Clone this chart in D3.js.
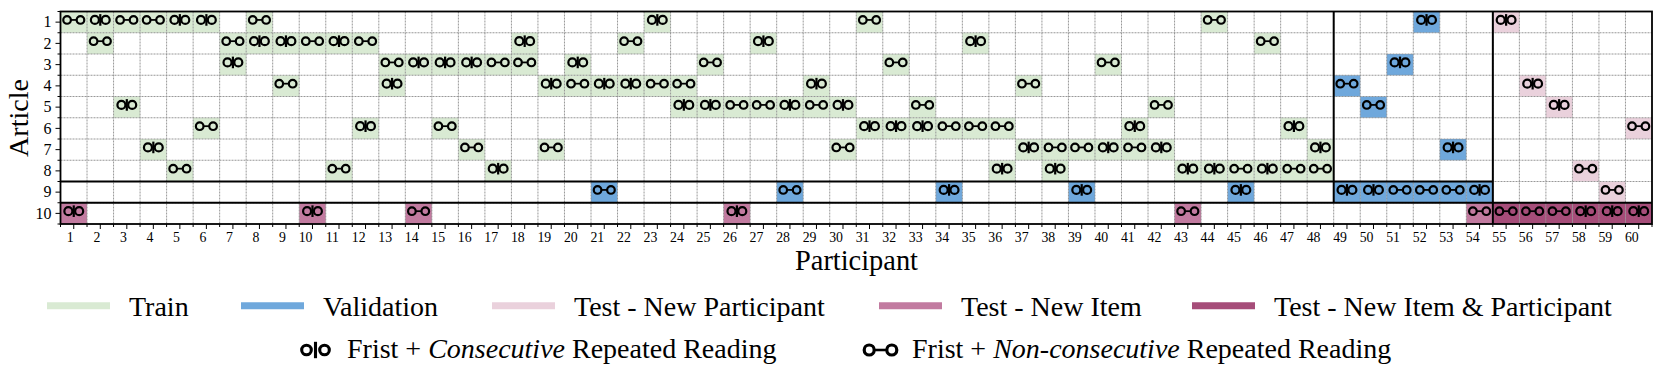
<!DOCTYPE html>
<html>
<head>
<meta charset="utf-8">
<script src="https://cdn.jsdelivr.net/npm/d3@7/dist/d3.min.js"></script>
<style>
	html, body { margin: 0; padding: 0; background: #fff; }
	svg { display: block; }
	text { font-family: "Liberation Serif", serif; fill: #000; }
</style>
</head>
<body>
<svg id="chart" width="1661" height="385"></svg>
<script>
var participants = d3.range(1, 61);
var articles = d3.range(1, 11);

// participant number and reading type for every article
// C = consecutive repeated reading, N = non-consecutive
var article1 = [[1,"N"],[2,"C"],[3,"N"],[4,"N"],[5,"C"],[6,"C"],[8,"N"],[23,"C"],[31,"N"],[44,"N"],[52,"C"],[55,"C"]];
var article2 = [[2,"N"],[7,"N"],[8,"C"],[9,"C"],[10,"N"],[11,"C"],[12,"N"],[18,"C"],[22,"N"],[27,"C"],[35,"C"],[46,"N"]];
var article3 = [[7,"C"],[13,"N"],[14,"C"],[15,"C"],[16,"C"],[17,"N"],[18,"N"],[20,"C"],[25,"N"],[32,"N"],[40,"N"],[51,"C"]];
var article4 = [[9,"N"],[13,"C"],[19,"C"],[20,"N"],[21,"C"],[22,"C"],[23,"N"],[24,"N"],[29,"C"],[37,"N"],[49,"N"],[56,"C"]];
var article5 = [[3,"C"],[24,"C"],[25,"C"],[26,"N"],[27,"N"],[28,"C"],[29,"N"],[30,"C"],[33,"N"],[42,"N"],[50,"N"],[57,"C"]];
var article6 = [[6,"N"],[12,"C"],[15,"N"],[31,"C"],[32,"C"],[33,"C"],[34,"N"],[35,"N"],[36,"N"],[41,"C"],[47,"C"],[60,"N"]];
var article7 = [[4,"C"],[16,"N"],[19,"N"],[30,"N"],[37,"C"],[38,"N"],[39,"N"],[40,"C"],[41,"N"],[42,"C"],[48,"C"],[53,"C"]];
var article8 = [[5,"N"],[11,"N"],[17,"C"],[36,"C"],[38,"C"],[43,"C"],[44,"C"],[45,"N"],[46,"C"],[47,"N"],[48,"N"],[58,"N"]];
var article9 = [[21,"N"],[28,"N"],[34,"C"],[39,"C"],[45,"C"],[49,"C"],[50,"C"],[51,"N"],[52,"N"],[53,"N"],[54,"C"],[59,"N"]];
var article10 = [[1,"C"],[10,"C"],[14,"N"],[26,"C"],[43,"N"],[54,"N"],[55,"N"],[56,"N"],[57,"N"],[58,"C"],[59,"C"],[60,"C"]];
var readings = [article1, article2, article3, article4, article5, article6, article7, article8, article9, article10];

var splitNames = ["Train", "Validation", "Test - New Participant", "Test - New Item", "Test - New Item & Participant"];
var splitColors = ["#d9ead3", "#6fa8dc", "#ead1dc", "#c27ba0", "#a64d79"];

var margin = {left: 60.5, right: 9, top: 11.5, bottom: 161};
var width = 1661, height = 385;

var xScale = d3.scaleBand().domain(participants).range([margin.left, width - margin.right]);
var yScale = d3.scaleBand().domain(articles).range([margin.top, height - margin.bottom]);
var colorScale = d3.scaleOrdinal().domain(splitNames).range(splitColors);

function getSplit(p, a) {
	if (a == 10) return p > 54 ? splitNames[4] : splitNames[3];
	if (p > 54) return splitNames[2];
	if (p > 48 || a == 9) return splitNames[1];
	return splitNames[0];
}

var svg = d3.select("#chart");

// grade tracejada nas bordas das celulas
var xEdges = participants.slice(1).map(function(p) { return xScale(p); });
var yEdges = articles.slice(1).map(function(a) { return yScale(a); });

var cells = [];
readings.forEach(function(row, i) {
	row.forEach(function(d) {
		cells.push({p: d[0], a: articles[i], kind: d[1]});
	});
});

svg.append("g").selectAll("rect")
	.data(cells)
	.enter()
	.append("rect")
		.attr("x", function(d) { return xScale(d.p); })
		.attr("y", function(d) { return yScale(d.a); })
		.attr("width", xScale.bandwidth())
		.attr("height", yScale.bandwidth())
		.style("fill", function(d) { return colorScale(getSplit(d.p, d.a)); });

var grid = svg.append("g")
	.attr("stroke", "#8c8c8c")
	.attr("stroke-width", 0.9)
	.attr("stroke-dasharray", "2,1");
grid.selectAll(".vgrid").data(xEdges).enter().append("line")
	.attr("class", "vgrid")
	.attr("x1", function(d) { return d; })
	.attr("x2", function(d) { return d; })
	.attr("y1", yScale.range()[0])
	.attr("y2", yScale.range()[1]);
grid.selectAll(".hgrid").data(yEdges).enter().append("line")
	.attr("class", "hgrid")
	.attr("y1", function(d) { return d; })
	.attr("y2", function(d) { return d; })
	.attr("x1", xScale.range()[0])
	.attr("x2", xScale.range()[1]);

// os dois tipos de marcador: o|o e o-o
function drawMarker(g, kind, r, off, sw, barHalf) {
	g.attr("fill", "none").attr("stroke", "#000").attr("stroke-width", sw);
	g.append("circle").attr("cx", -off).attr("r", r);
	g.append("circle").attr("cx", off).attr("r", r);
	if (kind == "C") {
		g.append("line").attr("y1", -barHalf).attr("y2", barHalf);
	} else {
		g.append("line").attr("x1", -off + r).attr("x2", off - r).attr("stroke-width", sw * 0.8);
	}
}

svg.append("g").selectAll("g")
	.data(cells)
	.enter()
	.append("g")
		.attr("transform", function(d) {
			return "translate(" + (xScale(d.p) + xScale.bandwidth() / 2) + "," + (yScale(d.a) + yScale.bandwidth() / 2 - 2.2) + ")";
		})
		.each(function(d) {
			if (d.kind == "C") drawMarker(d3.select(this), "C", 4, 5.4, 2.2, 5.8);
			else drawMarker(d3.select(this), "N", 3.8, 6.7, 2.2);
		});

// linhas pretas que separam os conjuntos
var lastTrain = xScale(49), lastVal = xScale(55);
var sepLines = [
	[xScale.range()[0], yScale(9), lastVal, yScale(9)],
	[xScale.range()[0], yScale(10), xScale.range()[1], yScale(10)],
	[lastTrain, yScale.range()[0], lastTrain, yScale(10)],
	[lastVal, yScale.range()[0], lastVal, yScale.range()[1]]
];
svg.append("g").selectAll("line")
	.data(sepLines)
	.enter()
	.append("line")
		.attr("x1", function(d) { return d[0]; })
		.attr("y1", function(d) { return d[1]; })
		.attr("x2", function(d) { return d[2]; })
		.attr("y2", function(d) { return d[3]; })
		.attr("stroke", "#000")
		.attr("stroke-width", 2);

svg.append("rect")
	.attr("x", xScale.range()[0])
	.attr("y", yScale.range()[0])
	.attr("width", xScale.range()[1] - xScale.range()[0])
	.attr("height", yScale.range()[1] - yScale.range()[0])
	.attr("fill", "none")
	.attr("stroke", "#000")
	.attr("stroke-width", 1.8);

// eixos
var xAxis = svg.append("g")
	.attr("transform", "translate(0," + yScale.range()[1] + ")")
	.call(d3.axisBottom(xScale).tickSize(5).tickPadding(3));
var yAxis = svg.append("g")
	.attr("transform", "translate(" + xScale.range()[0] + ",0)")
	.call(d3.axisLeft(yScale).tickSize(5).tickPadding(4));
[xAxis, yAxis].forEach(function(ax) {
	ax.select(".domain").remove();
	ax.selectAll("line").attr("stroke", "#000").attr("stroke-width", 1);
});
// rotulos do eixo x alinhados a direita do tick
xAxis.selectAll("text")
	.attr("text-anchor", "end")
	.style("font-family", "Liberation Serif")
	.style("font-size", "13.8px");
yAxis.selectAll("text").style("font-family", "Liberation Serif").style("font-size", "16px");

// ticks menores nas bordas
svg.append("g").selectAll("line")
	.data(xScale.domain().map(function(p) { return xScale(p); }).concat(xScale.range()[1]))
	.enter()
	.append("line")
		.attr("x1", function(d) { return d; })
		.attr("x2", function(d) { return d; })
		.attr("y1", yScale.range()[1])
		.attr("y2", yScale.range()[1] + 3)
		.attr("stroke", "#000");
svg.append("g").selectAll("line")
	.data(yScale.domain().map(function(a) { return yScale(a); }).concat(yScale.range()[1]))
	.enter()
	.append("line")
		.attr("y1", function(d) { return d; })
		.attr("y2", function(d) { return d; })
		.attr("x1", xScale.range()[0])
		.attr("x2", xScale.range()[0] - 3)
		.attr("stroke", "#000");

svg.append("text")
	.attr("x", 856.5)
	.attr("y", 270)
	.attr("text-anchor", "middle")
	.style("font-size", "28.4px")
	.text("Participant");
svg.append("text")
	.attr("transform", "translate(27.5,118) rotate(-90)")
	.attr("text-anchor", "middle")
	.style("font-size", "28px")
	.text("Article");

// legenda
var legendX = [47, 241, 492, 879, 1192];
var legend = svg.append("g").selectAll("g")
	.data(splitNames)
	.enter()
	.append("g")
		.attr("transform", function(d, i) { return "translate(" + legendX[i] + ",305.8)"; });
legend.append("line")
	.attr("x2", 63)
	.attr("stroke", function(d) { return colorScale(d); })
	.attr("stroke-width", 7);
legend.append("text")
	.attr("x", 82)
	.attr("y", 10.2)
	.style("font-size", "28px")
	.text(function(d) { return d; });

var markerLegend = [
	{x: 315.5, kind: "C", word: "Consecutive"},
	{x: 880.5, kind: "N", word: "Non-consecutive"}
];
var rows = svg.append("g").selectAll("g")
	.data(markerLegend)
	.enter()
	.append("g")
		.attr("transform", function(d) { return "translate(" + d.x + ",350)"; });
rows.append("g").each(function(d) {
	if (d.kind == "C") drawMarker(d3.select(this), "C", 4.8, 9, 3.1, 8.2);
	else drawMarker(d3.select(this), "N", 5, 11.3, 3.2);
});
var label = rows.append("text")
	.attr("x", 31.5)
	.attr("y", 8.4)
	.style("font-size", "28px");
label.append("tspan").text("Frist + ");
label.append("tspan").style("font-style", "italic").text(function(d) { return d.word; });
label.append("tspan").text(" Repeated Reading");
</script>
</body>
</html>
